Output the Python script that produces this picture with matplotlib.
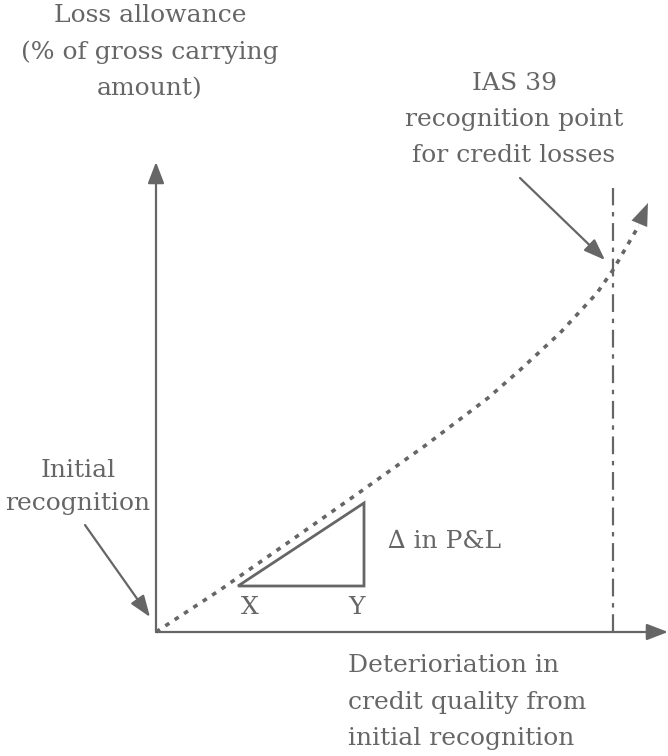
import matplotlib
matplotlib.use("Agg")
import matplotlib.pyplot as plt
from matplotlib.patches import Polygon

# curve (x = deterioration, y = loss allowance)
curve_x = [0, 64, 130, 204, 270, 332, 364, 404, 441, 457, 482]
curve_y = [0, 42, 88, 140, 187, 234, 262, 299, 339, 362, 405]
curve_tip = (492, 429)

ias39_x = 457          # IAS 39 recognition point
ias39_top = 444

tri_x = [82, 208, 208]   # X, Y, top
tri_y = [46, 46, 129]

y_axis_top = 470
x_axis_end = 512

grey = "#666666"
plt.rcParams["font.family"] = ["DejaVu Serif"]

fig = plt.figure(figsize=(6.68, 7.56), dpi=100)
ax = fig.add_axes([0, 0, 1, 1])
ax.set_xlim(-156, 512)
ax.set_ylim(-124, 632)
ax.axis("off")

# axes with arrowheads
arr = dict(arrowstyle="-|>,head_length=0.65,head_width=0.25", color=grey, lw=1.6,
           mutation_scale=20, shrinkA=0, shrinkB=0)
ax.annotate("", xy=(0, y_axis_top), xytext=(0, 0), arrowprops=arr)
ax.annotate("", xy=(x_axis_end, 0), xytext=(0, 0), arrowprops=arr)

# dotted curve
ax.plot(curve_x, curve_y, color=grey, lw=2.6, linestyle=(0, (1.3, 1.8)),
        dash_capstyle="butt")
ax.annotate("", xy=curve_tip, xytext=(curve_x[-1], curve_y[-1]),
            arrowprops=dict(arrowstyle="-|>,head_length=0.8,head_width=0.3",
                            color=grey, lw=0.1, mutation_scale=20,
                            shrinkA=0, shrinkB=0))

# IAS 39 vertical line
ax.plot([ias39_x, ias39_x], [0, ias39_top], color=grey, lw=1.6,
        linestyle=(0, (8, 3, 2, 3)))

# triangle
ax.add_patch(Polygon(list(zip(tri_x, tri_y)), closed=True, fill=False,
                     edgecolor=grey, lw=2.0))

# callout arrows
carr = dict(arrowstyle="-|>,head_length=0.65,head_width=0.24", color=grey, lw=1.6,
            mutation_scale=20, shrinkA=0, shrinkB=0)
ax.annotate("", xy=(449, 372), xytext=(364, 454), arrowprops=carr)
ax.annotate("", xy=(-6, 15), xytext=(-71, 107), arrowprops=carr)

fs = 18
tc = grey
ax.text(-6, 628, "Loss allowance\n(% of gross carrying\namount)", ha="center",
        va="top", fontsize=fs, color=tc, linespacing=1.72)
ax.text(358, 560, "IAS 39\nrecognition point\nfor credit losses", ha="center",
        va="top", fontsize=fs, color=tc, linespacing=1.72)
ax.text(-78, 173, "Initial\nrecognition", ha="center", va="top",
        fontsize=fs, color=tc, linespacing=1.55)
ax.text(192, -22, "Deterioriation in\ncredit quality from\ninitial recognition",
        ha="left", va="top", fontsize=fs, color=tc, linespacing=1.76)
ax.text(94, 25, "X", ha="center", va="center", fontsize=fs, color=tc)
ax.text(200, 25, "Y", ha="center", va="center", fontsize=fs, color=tc)
ax.text(232, 91, "\u2206 in P&L", ha="left", va="center", fontsize=fs, color=tc)

fig.savefig("out.png", dpi=100)
